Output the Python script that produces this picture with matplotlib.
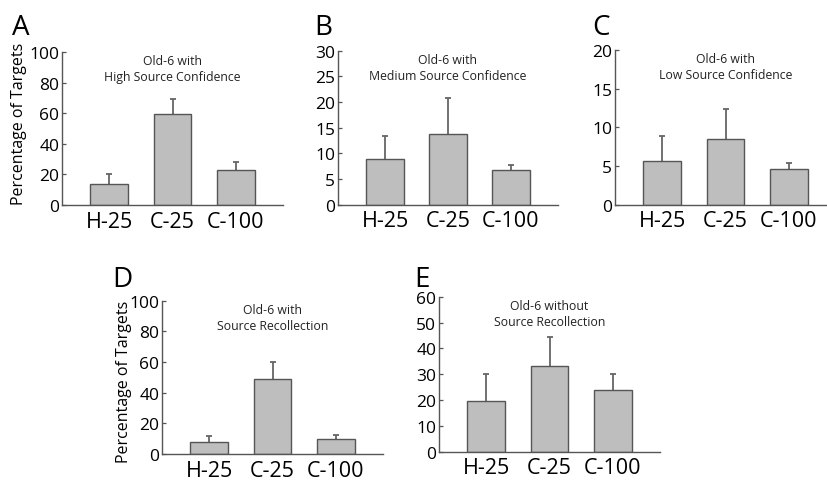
import matplotlib
matplotlib.use("Agg")
import matplotlib.pyplot as plt

plt.rcParams['font.family'] = ['Open Sans', 'DejaVu Sans']

categories = ["H-25", "C-25", "C-100"]

a_means = [13.5, 59.5, 22.8]
a_err = [6.8, 9.8, 5.3]
b_means = [8.9, 13.8, 6.8]
b_err = [4.5, 6.9, 1.0]
c_means = [5.6, 8.5, 4.6]
c_err = [3.3, 3.9, 0.8]
d_means = [8.0, 48.8, 10.0]
d_err = [4.0, 11.0, 2.6]
e_means = [19.7, 33.0, 24.0]
e_err = [10.2, 11.3, 5.9]

a_ticks = [0, 20, 40, 60, 80, 100]
b_ticks = [0, 5, 10, 15, 20, 25, 30]
c_ticks = [0, 5, 10, 15, 20]
d_ticks = [0, 20, 40, 60, 80, 100]
e_ticks = [0, 10, 20, 30, 40, 50, 60]

titles = {
    "A": "Old-6 with\nHigh Source Confidence",
    "B": "Old-6 with\nMedium Source Confidence",
    "C": "Old-6 with\nLow Source Confidence",
    "D": "Old-6 with\nSource Recollection",
    "E": "Old-6 without\nSource Recollection",
}

W, H = 827, 481
fig = plt.figure(figsize=(W / 100, H / 100), dpi=100)

def px_axes(x0, x1, ytop, ybot):
    return fig.add_axes([x0 / W, 1 - ybot / H, (x1 - x0) / W, (ybot - ytop) / H])

edge = "#555555"
fill = "#bebebe"

def panel(ax, means, err, ticks, title):
    x = list(range(1, len(categories) + 1))
    ax.bar(x, means, width=0.6, color=fill, edgecolor=edge, linewidth=1.0, zorder=2)
    eb = ax.errorbar(x, means, yerr=[[0] * len(err), err], fmt="none", ecolor="#666666",
                     elinewidth=1.3, capsize=2.2, capthick=1.3, zorder=1)
    caps = eb[1]
    if len(caps) > 1:
        caps[0].set_visible(False)
    ax.set_xlim(0.25, 3.75)
    ax.set_ylim(ticks[0], ticks[-1])
    ax.set_yticks(ticks)
    ax.set_xticks(x)
    ax.set_xticklabels(categories, fontsize=15.5)
    ax.tick_params(axis="x", length=0, pad=4)
    ax.tick_params(axis="y", direction="in", length=3, width=0.9, color=edge,
                   labelsize=12.5, pad=2)
    for s in ["top", "right"]:
        ax.spines[s].set_visible(False)
    for s in ["left", "bottom"]:
        ax.spines[s].set_color(edge)
        ax.spines[s].set_linewidth(1.0)
    ax.text(0.5, 0.985, title, transform=ax.transAxes, ha="center", va="top",
            fontsize=8.8, linespacing=1.3, color="#222222")

axA = px_axes(62, 283, 53, 206)
axB = px_axes(338, 558, 51.7, 205.7)
axC = px_axes(615, 836, 51, 205.7)
axD = px_axes(162, 383, 301.7, 455)
axE = px_axes(439, 660, 297.7, 452.7)

panel(axA, a_means, a_err, a_ticks, titles["A"])
panel(axB, b_means, b_err, b_ticks, titles["B"])
panel(axC, c_means, c_err, c_ticks, titles["C"])
panel(axD, d_means, d_err, d_ticks, titles["D"])
panel(axE, e_means, e_err, e_ticks, titles["E"])

def ftext(x, y, s, **kw):
    fig.text(x / W, 1 - y / H, s, **kw)

ftext(19, 123.5, "Percentage of Targets", rotation=90, ha="center", va="center", fontsize=11.5)
ftext(124, 382, "Percentage of Targets", rotation=90, ha="center", va="center", fontsize=11.5)

for lab, x, y in [("A", 12, 35), ("B", 314, 35), ("C", 592, 35), ("D", 112, 287), ("E", 414, 287)]:
    ftext(x, y, lab, ha="left", va="baseline", fontsize=20)

fig.savefig("out.png", dpi=100)
